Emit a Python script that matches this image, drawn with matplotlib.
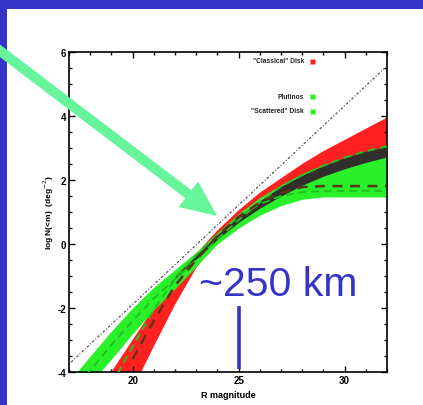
"""
Slide figure: cumulative TNO surface density vs R magnitude,
with the ~250 km break marked.
"""

import matplotlib
matplotlib.use("Agg")
import matplotlib.pyplot as plt
from matplotlib.patches import Rectangle, FancyArrow
from matplotlib.ticker import MultipleLocator

plt.rcParams["axes.unicode_minus"] = False

BLUE = "#3434c8"
RED = "#ff2020"
GREEN = "#2af02a"
DARK = "#332e2e"
BROWN = "#5e3418"
MINT = "#66f59a"

# common magnitude grid for the bands
R = [17, 18, 19, 20, 21, 22, 23, 24, 25, 26, 27, 28, 29, 30, 31, 32]

red_hi = [-6.0, -5.0, -4.0, -3.0, -2.0, -1.1, -0.3, 0.42, 1.05, 1.6, 2.05, 2.5, 2.9, 3.25, 3.6, 3.95]
red_lo = [-9.0, -7.6, -6.0, -4.55, -3.2, -1.9, -0.75, 0.1, 0.7, 1.15, 1.5, 1.8, 2.1, 2.35, 2.6, 2.85]

green_hi = [-4.3, -3.5, -2.72, -2.0, -1.35, -0.8, -0.25, 0.35, 0.95, 1.45, 1.85, 2.2, 2.47, 2.7, 2.9, 3.05]
green_lo = [-5.1, -4.35, -3.6, -2.8, -2.05, -1.4, -0.7, 0.0, 0.5, 0.9, 1.2, 1.4, 1.47, 1.47, 1.47, 1.47]

# dark band (only from R=22 on)
R_dark = [22, 23, 24, 25, 26, 27, 28, 29, 30, 31, 32]
dark_hi = [-1.0, -0.35, 0.3, 0.85, 1.35, 1.8, 2.15, 2.45, 2.7, 2.9, 3.05]
dark_lo = [-1.1, -0.47, 0.15, 0.68, 1.12, 1.5, 1.84, 2.12, 2.35, 2.55, 2.72]

# dashed model curves
scat_dash = [-4.7, -3.95, -3.15, -2.4, -1.7, -1.1, -0.5, 0.15, 0.75, 1.3, 1.8, 2.15, 2.45, 2.7, 2.9, 3.05]
R_cl = [19, 20, 21, 22, 23, 24, 25, 26, 27, 28, 29, 30, 31, 32]
class_dash = [-4.4, -3.2, -2.05, -1.1, -0.35, 0.3, 0.85, 1.25, 1.5, 1.62, 1.65, 1.66, 1.66, 1.66]
R_br = [20, 21, 22, 23, 24, 25, 26, 27, 28, 29, 30, 31, 32]
brown_dash = [-3.6, -2.4, -1.3, -0.5, 0.25, 0.85, 1.3, 1.6, 1.78, 1.81, 1.81, 1.81, 1.81]

# reference power law (dash-dot)
R_ref = [17.1, 31.9]
ref_line = [-3.69, 5.5]

legend_labels = ['"Classical" Disk', 'Plutinos', '"Scattered" Disk']
legend_y = [5.72, 4.62, 4.16]
legend_colors = [RED, GREEN, GREEN]

XLIM = (17, 32)
YLIM = (-4, 6)
BREAK_MAG = 25

W, H, DPI = 423, 406, 100

fig = plt.figure(figsize=(W / DPI, H / DPI), dpi=DPI)
fig.patch.set_facecolor(BLUE)
fig.add_artist(Rectangle((7 / W, 0), 1, (H - 10) / H, transform=fig.transFigure,
                         facecolor="white", edgecolor="none", zorder=-5))

ax = fig.add_axes([69 / W, (H - 373) / H, (387 - 69) / W, (373 - 53) / H])
ax.set_facecolor("white")

ax.fill_between(R, red_lo, red_hi, color=RED, linewidth=0, zorder=1)
ax.fill_between(R, green_lo, green_hi, color=GREEN, linewidth=0, zorder=2)
ax.fill_between(R_dark, dark_lo, dark_hi, color=DARK, linewidth=0, zorder=3)

ax.plot(R, scat_dash, color="#1fc21f", lw=1.4, dashes=(4, 2.5), zorder=4)
ax.plot(R_cl, class_dash, color="#1fc21f", lw=1.4, dashes=(4, 2.5), zorder=4)
ax.plot(R_br, brown_dash, color=BROWN, lw=1.8, dashes=(4, 3), zorder=5)
ax.plot(R_ref, ref_line, color="#555555", lw=0.9, dashes=(2, 1.5, 0.8, 1.5), zorder=6)

# legend by hand, like the original
for lab, yy, col in zip(legend_labels, legend_y, legend_colors):
    ax.text(28.08, yy, lab, ha="right", va="center", fontsize=4.8,
            family="Liberation Sans", fontweight="bold", color="#222222")
    ax.plot([28.45], [yy], marker="s", ms=3.6, color=col, mec="none")

ax.set_xlim(*XLIM)
ax.set_ylim(*YLIM)
ax.xaxis.set_major_locator(MultipleLocator(5))
ax.xaxis.set_minor_locator(MultipleLocator(1))
ax.yaxis.set_major_locator(MultipleLocator(2))
ax.yaxis.set_minor_locator(MultipleLocator(0.5))
ax.tick_params(which="both", direction="in", top=True, right=True, width=1.0,
               labelsize=7, pad=2)
ax.tick_params(which="major", length=4)
ax.tick_params(which="minor", length=2.5)
for lab in ax.get_xticklabels() + ax.get_yticklabels():
    lab.set_family("Liberation Sans")
    lab.set_fontweight("bold")
for sp in ax.spines.values():
    sp.set_linewidth(1.2)

ax.set_xlabel("R magnitude", fontsize=6.5, family="Liberation Sans",
              fontweight="bold", labelpad=4)
ax.set_ylabel("log N(<m)  (deg$^{-2}$)", fontsize=6, family="Liberation Sans",
              fontweight="bold", labelpad=1)

# the size annotation
ax.plot([BREAK_MAG, BREAK_MAG], [-3.9, -1.94], color=BLUE, lw=2.6,
        solid_capstyle="butt", zorder=8)
ax.text(26.85, -1.6, "~250 km", ha="center", va="baseline", fontsize=29.5,
        family="Liberation Sans", color=BLUE, zorder=8)

# big green pointer, in inches from the bottom-left corner
arrow = FancyArrow(-0.05, 3.58, 2.22, -1.69, width=0.10, head_width=0.32,
                   head_length=0.36, length_includes_head=True,
                   transform=fig.dpi_scale_trans, color=MINT, lw=0, zorder=20)
fig.add_artist(arrow)

fig.savefig("out.png", dpi=DPI, facecolor=fig.get_facecolor())
